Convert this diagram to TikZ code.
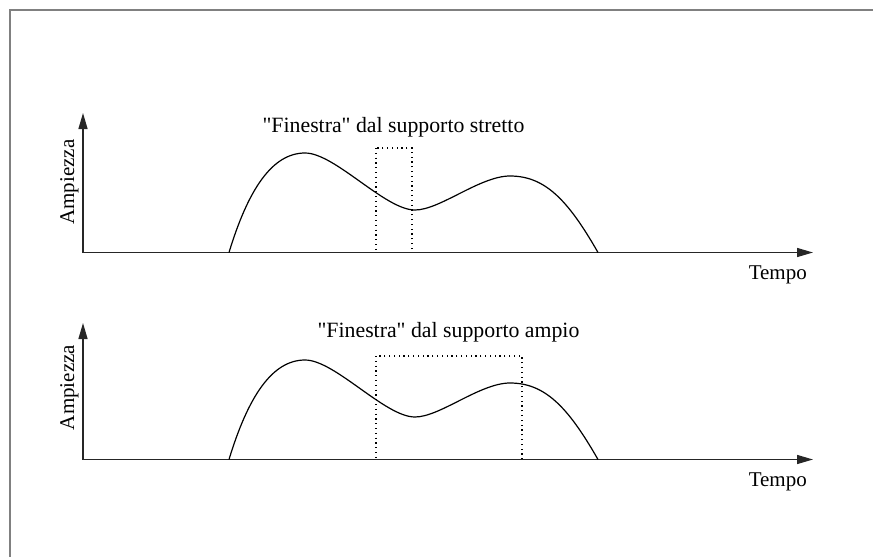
\documentclass[tikz,border=0pt]{standalone}
\usepackage{fontspec}
\setmainfont{Liberation Serif}
\usetikzlibrary{arrows.meta}
\tikzset{
  frameline/.style={draw=black!50, line width=2pt},
  axisline/.style={draw=black!85, line width=1.4pt, -{Triangle[length=16pt,width=9pt]}},
  signal/.style={draw=black, line width=1.2pt},
  window/.style={draw=black, line width=1.1pt, dash pattern=on 1.2pt off 3.6pt},
  title/.style={font=\fontsize{21.8}{26}\selectfont, anchor=base, inner sep=0pt},
  axlabel/.style={font=\fontsize{21}{25}\selectfont, inner sep=0pt}
}
\begin{document}
\begin{tikzpicture}[x=1pt, y=-1pt]
\useasboundingbox (0,0) rectangle (873,557);
% frame
\coordinate (fbl) at (9.5,557);
\coordinate (ftl) at (9.5,10);
\coordinate (ftr) at (873,10);
\draw[frameline] (fbl) -- (ftl) -- (ftr);

% ---------- top plot ----------
\begin{scope}
\coordinate (o1) at (83,252.5);
\coordinate (y1) at (83,113);
\coordinate (x1) at (813,252.5);
\draw[window] (376,148) rectangle (412,252.5);
\draw[axisline] (o1) -- (y1);
\draw[axisline] (o1) -- (x1);
\draw[signal] (229,252.5) .. controls (248,190) and (272,153) .. (305,153)
  .. controls (335,153) and (385,210) .. (415,210)
  .. controls (440,210) and (480,176) .. (510,176)
  .. controls (545,176) and (568,200) .. (598,252.5);
\node[title] (t1) at (393.5,132) {\textquotedbl Finestra\textquotedbl{} dal supporto stretto};
\node[axlabel, rotate=90, anchor=base] (a1) at (74,182) {Ampiezza};
\node[axlabel, anchor=base east] (tm1) at (807,279) {Tempo};
\end{scope}

% ---------- bottom plot ----------
\begin{scope}[yshift=-207pt]
\coordinate (o2) at (83,252.5);
\coordinate (y2) at (83,116);
\coordinate (x2) at (813,252.5);
\draw[window] (376,149) rectangle (522,252.5);
\draw[axisline] (o2) -- (y2);
\draw[axisline] (o2) -- (x2);
\draw[signal] (229,252.5) .. controls (248,190) and (272,153) .. (305,153)
  .. controls (335,153) and (385,210) .. (415,210)
  .. controls (440,210) and (480,176) .. (510,176)
  .. controls (545,176) and (568,200) .. (598,252.5);
\node[title] (t2) at (448.5,130.5) {\textquotedbl Finestra\textquotedbl{} dal supporto ampio};
\node[axlabel, rotate=90, anchor=base] (a2) at (74,180.5) {Ampiezza};
\node[axlabel, anchor=base east] (tm2) at (807,279) {Tempo};
\end{scope}
\end{tikzpicture}
\end{document}
